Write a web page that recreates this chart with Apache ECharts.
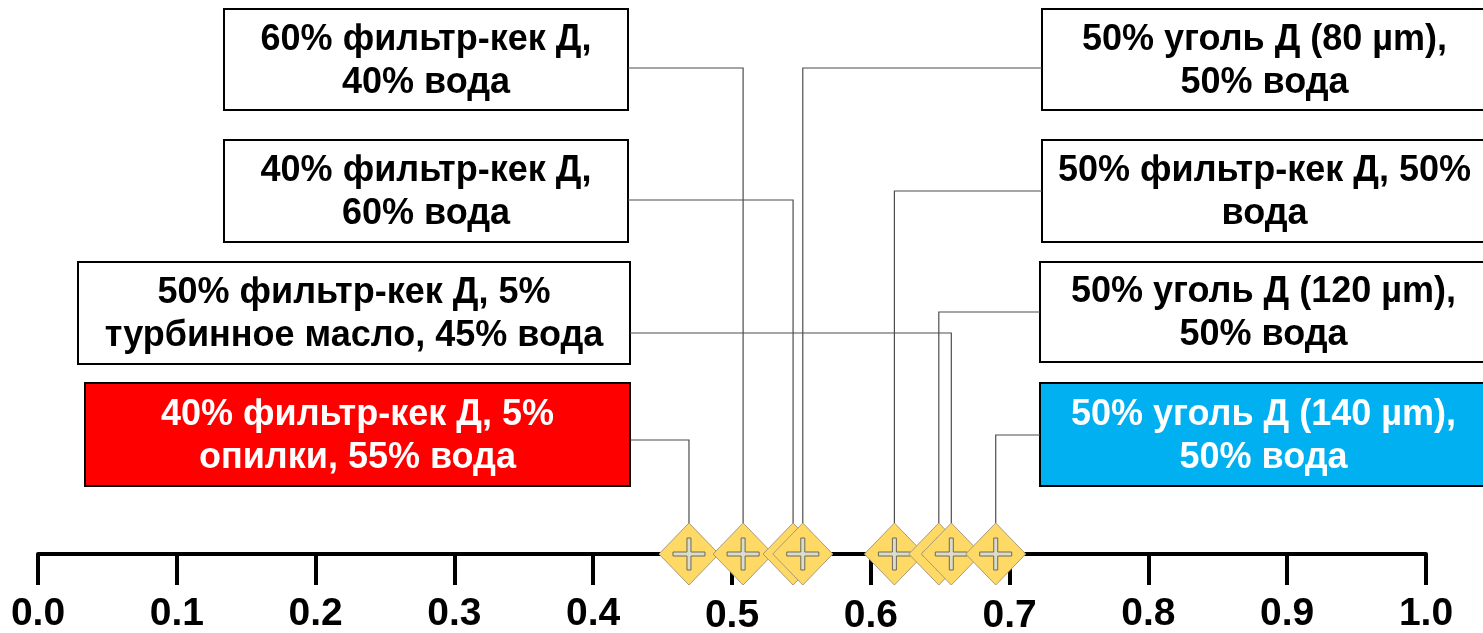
<!DOCTYPE html>
<html>
<head>
<meta charset="utf-8">
<script src="https://cdn.jsdelivr.net/npm/echarts@6/dist/echarts.min.js"></script>
<style>
  html, body { margin: 0; padding: 0; background: #fff; }
  #chart { width: 1483px; height: 633px; }
</style>
</head>
<body>
<div id="chart"></div>
<script>
// смеси, по возрастанию значения на шкале
const mixtures = [
  "40% фильтр-кек Д, 5%\nопилки, 55% вода",
  "60% фильтр-кек Д,\n40% вода",
  "40% фильтр-кек Д,\n60% вода",
  "50% уголь Д (80 µm),\n50% вода",
  "50% фильтр-кек Д, 50%\nвода",
  "50% уголь Д (120 µm),\n50% вода",
  "50% фильтр-кек Д, 5%\nтурбинное масло, 45% вода",
  "50% уголь Д (140 µm),\n50% вода"
];
const values = [0.469, 0.508, 0.544, 0.551, 0.617, 0.649, 0.658, 0.690];
const tickLabels = ["0.0", "0.1", "0.2", "0.3", "0.4", "0.5", "0.6", "0.7", "0.8", "0.9", "1.0"];
const loweredTicks = ["0.5", "0.6", "0.7"];

// рамки подписей (пиксели), в том же порядке, что и смеси
const boxes = [
  { x: 85,   y: 383, w: 545, h: 103, ly: 440, side: "left",  fill: "#FF0000", color: "#fff" },
  { x: 224,  y: 9,   w: 404, h: 101, ly: 68,  side: "left",  fill: "#fff",    color: "#000" },
  { x: 224,  y: 140, w: 404, h: 102, ly: 200, side: "left",  fill: "#fff",    color: "#000" },
  { x: 1042, y: 9,   w: 445, h: 101, ly: 68,  side: "right", fill: "#fff",    color: "#000" },
  { x: 1042, y: 140, w: 445, h: 102, ly: 191, side: "right", fill: "#fff",    color: "#000" },
  { x: 1040, y: 262, w: 447, h: 100, ly: 312, side: "right", fill: "#fff",    color: "#000" },
  { x: 78,   y: 262, w: 552, h: 102, ly: 333, side: "left",  fill: "#fff",    color: "#000" },
  { x: 1040, y: 383, w: 447, h: 103, ly: 435, side: "right", fill: "#00B0F0", color: "#fff" }
];

const FONT = "'Liberation Sans', Arial, sans-serif";
const HALF_W = 30, HALF_H = 31;

let chart = echarts.init(document.getElementById("chart"));

let graphics = boxes.map(function (b, i) {
  return {
    type: "group",
    children: [
      {
        type: "rect",
        shape: { x: b.x, y: b.y, width: b.w, height: b.h },
        style: { fill: b.fill, stroke: "#000", lineWidth: 2 }
      },
      {
        type: "text",
        style: {
          text: mixtures[i],
          x: b.x + b.w / 2,
          y: b.y + b.h / 2 + 2,
          align: "center",
          verticalAlign: "middle",
          font: "bold 36px " + FONT,
          lineHeight: 43,
          fill: b.color
        }
      }
    ]
  };
});

chart.setOption({
  animation: false,
  grid: { left: 38, right: 57, top: 0, bottom: 79, containLabel: false, outerBoundsMode: "none" },
  xAxis: {
    type: "value",
    min: 0,
    max: 1,
    interval: 0.1,
    splitLine: { show: false },
    axisLine: { lineStyle: { color: "#000", width: 4 } },
    axisTick: { length: 31, lineStyle: { color: "#000", width: 4 } },
    axisLabel: {
      margin: 41,
      fontSize: 39,
      fontWeight: "bold",
      fontFamily: FONT,
      color: "#000",
      formatter: function (v, idx) {
        let t = tickLabels[idx];
        return loweredTicks.indexOf(t) >= 0 ? "{low|" + t + "}" : t;
      },
      rich: {
        low: { fontSize: 39, fontWeight: "bold", fontFamily: FONT, color: "#000", padding: [2, 0, 0, 0] }
      }
    }
  },
  yAxis: { type: "value", min: 0, max: 1, show: false },
  graphic: graphics,
  series: [
    {
      // выноски от маркеров к рамкам
      type: "custom",
      z: 1,
      data: values.map(function (v, i) { return [v, 0, i]; }),
      renderItem: function (params, api) {
        let c = api.coord([api.value(0), 0]);
        let b = boxes[params.dataIndex];
        let edge = b.side === "left" ? b.x + b.w : b.x;
        return {
          type: "polyline",
          shape: { points: [[c[0], c[1] - HALF_H], [c[0], b.ly], [edge, b.ly]] },
          style: { stroke: "#4d4d4d", lineWidth: 1.2, fill: null }
        };
      }
    },
    {
      // ромбы с крестиком
      type: "custom",
      z: 3,
      data: values.map(function (v) { return [v, 0]; }),
      renderItem: function (params, api) {
        let c = api.coord([api.value(0), 0]);
        let x = c[0], y = c[1];
        let a = 16, t = 2;
        return {
          type: "group",
          children: [
            {
              type: "polygon",
              shape: { points: [[x, y - HALF_H], [x + HALF_W, y], [x, y + HALF_H], [x - HALF_W, y]] },
              style: { fill: "#FFD966", stroke: "#A89A78", lineWidth: 1 }
            },
            {
              type: "polygon",
              shape: {
                points: [
                  [x - t, y - a], [x + t, y - a], [x + t, y - t], [x + a, y - t],
                  [x + a, y + t], [x + t, y + t], [x + t, y + a], [x - t, y + a],
                  [x - t, y + t], [x - a, y + t], [x - a, y - t], [x - t, y - t]
                ]
              },
              style: { fill: "#DCDCC8", stroke: "#6b6b5b", lineWidth: 1 }
            }
          ]
        };
      }
    }
  ]
});
</script>
</body>
</html>
